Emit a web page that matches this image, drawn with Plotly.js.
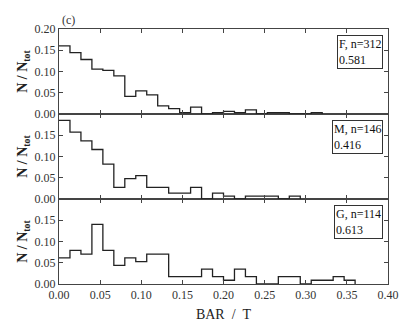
<!DOCTYPE html>
<html>
<head>
<meta charset="utf-8">
<script src="https://cdn.plot.ly/plotly-3.0.1.min.js"></script>
<style>
  html, body { margin: 0; padding: 0; background: #fff; }
  #chart { width: 415px; height: 334px; }
</style>
</head>
<body>
<div id="chart"></div>
<script>
// Histogram of BAR / T, three samples, 30 bins over 0 - 0.4
const binWidth = 0.4 / 30;

const labelF = 'F, n=312', nF = 312, fracF = '0.581';
const labelM = 'M, n=146', nM = 146, fracM = '0.416';
const labelG = 'G, n=114', nG = 114, fracG = '0.613';

// counts per bin
const countsF = [50, 45, 40, 33, 32, 28, 13, 17, 14, 6, 4, 1, 5, 0, 1, 2, 1, 3, 0, 1, 1, 0, 0, 1];
const countsM = [27, 23, 20, 17, 12, 4, 7, 8, 4, 4, 2, 2, 4, 0, 2, 1, 0, 1, 1, 1, 0, 1];
const countsG = [7, 9, 8, 16, 9, 5, 7, 6, 8, 8, 2, 2, 2, 4, 2, 1, 4, 2, 0, 0, 2, 2, 0, 1, 1, 2, 1];

const xTicks = [0, 0.05, 0.10, 0.15, 0.20, 0.25, 0.30, 0.35, 0.40];
const yTicksTop = [0, 0.05, 0.10, 0.15, 0.20];
const yTicks = [0, 0.05, 0.10, 0.15];

const serif = '"Liberation Serif", "DejaVu Serif", serif';
const ink = '#222';

// build a step outline: left edge of every bin, closing on the baseline
function stepTrace(counts, n, xa, ya) {
  const x = counts.map((c, i) => i * binWidth);
  const y = counts.map(c => c / n);
  x.push(counts.length * binWidth);
  y.push(0);
  return {
    x: x, y: y, xaxis: xa, yaxis: ya,
    type: 'scatter', mode: 'lines',
    line: { shape: 'hv', color: ink, width: 1.3 },
    hoverinfo: 'skip', showlegend: false
  };
}

const traces = [
  stepTrace(countsF, nF, 'x3', 'y3'),
  stepTrace(countsM, nM, 'x2', 'y2'),
  stepTrace(countsG, nG, 'x', 'y')
];

function xAxis(anchor, labels) {
  return {
    anchor: anchor,
    domain: [0, 1],
    range: [0, 0.4],
    tickvals: xTicks,
    ticktext: xTicks.map(v => v.toFixed(2)),
    showticklabels: labels,
    ticks: 'inside', ticklen: 4, tickcolor: '#444',
    showline: true, linecolor: '#444', linewidth: 1, mirror: 'ticks',
    showgrid: false, zeroline: false,
    tickfont: { family: serif, size: 12, color: '#333' }
  };
}

function yAxis(domain, ticks) {
  return {
    domain: domain,
    range: [0, 0.2],
    tickvals: ticks,
    ticktext: ticks.map(v => v.toFixed(2)),
    ticks: 'inside', ticklen: 4, tickcolor: '#444',
    showline: true, linecolor: '#444', linewidth: 1, mirror: 'ticks',
    showgrid: false, zeroline: false,
    tickfont: { family: serif, size: 12, color: '#333' },
    title: {
      text: '<b>N / N<sub>tot</sub></b>',
      standoff: 3,
      font: { family: serif, size: 14, color: '#222' }
    }
  };
}

function box(text, frac, yref) {
  return {
    text: text + '<br>' + frac,
    xref: 'paper', yref: yref,
    x: 0.985, y: 0.93,
    xanchor: 'right', yanchor: 'top', align: 'left',
    showarrow: false,
    font: { family: serif, size: 12, color: '#111' },
    bordercolor: '#333', borderwidth: 1, borderpad: 1,
    bgcolor: '#fff'
  };
}

const layout = {
  width: 415, height: 334,
  paper_bgcolor: '#fff', plot_bgcolor: '#fff',
  margin: { l: 59, r: 27, t: 29, b: 50 },
  font: { family: serif, color: '#222' },
  xaxis: Object.assign(xAxis('y', true), {
    title: { text: 'BAR\u00a0\u00a0/\u00a0\u00a0T', standoff: 7, font: { family: serif, size: 14, color: '#222' } }
  }),
  xaxis2: Object.assign(xAxis('y2', false), { matches: 'x' }),
  xaxis3: Object.assign(xAxis('y3', false), { matches: 'x' }),
  yaxis: Object.assign(yAxis([0, 1 / 3], yTicks), { anchor: 'x' }),
  yaxis2: Object.assign(yAxis([1 / 3, 2 / 3], yTicks), { anchor: 'x2' }),
  yaxis3: Object.assign(yAxis([2 / 3, 1], yTicksTop), { anchor: 'x3' }),
  annotations: [
    box(labelF, fracF, 'y3 domain'),
    box(labelM, fracM, 'y2 domain'),
    box(labelG, fracG, 'y domain'),
    {
      text: '(c)', xref: 'paper', yref: 'paper', x: 0.003, y: 1,
      xanchor: 'left', yanchor: 'bottom', showarrow: false,
      font: { family: serif, size: 12, color: '#333' }
    }
  ]
};

Plotly.newPlot('chart', traces, layout, { displayModeBar: false, staticPlot: true });
</script>
</body>
</html>
